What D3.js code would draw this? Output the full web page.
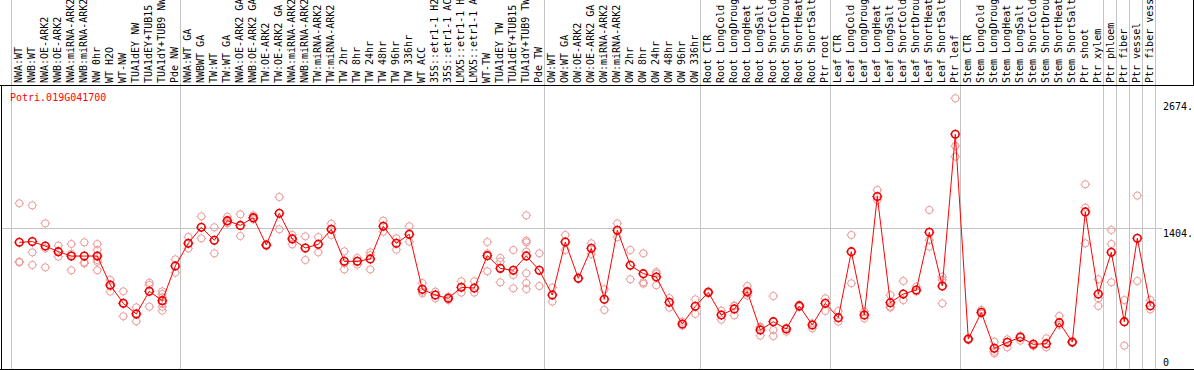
<!DOCTYPE html>
<html><head><meta charset="utf-8">
<script src="https://cdn.jsdelivr.net/npm/d3@7"></script>
<style>
html,body{margin:0;padding:0;background:#fff;}
svg{display:block;}
text{font-family:"DejaVu Sans Mono","Liberation Mono",monospace;font-size:10px;}
</style></head>
<body>
<svg id="chart" width="1194" height="370"></svg>
<script>
const title = "Potri.019G041700";
const categories = [
"NWA:WT","NWB:WT","NWA:OE-ARK2","NWB:OE-ARK2","NWA:miRNA-ARK2","NWB:miRNA-ARK2","NW 0hr","WT H2O","WT-NW","TUA1dEY NW","TUA1dEY+TUB15 NW","TUA1dY+TUB9 NW","Pde NW",
"NWA:WT GA","NWBWT GA","TW:WT","TW:WT GA","NWA:OE-ARK2 GA","NWB:OE-ARK2 GA","TW:OE-ARK2","TW:OE-ARK2 GA","NWA:miRNA-ARK2 GA","NWB:miRNA-ARK2 GA","TW:miRNA-ARK2","TW:miRNA-ARK2 GA","TW 2hr","TW 8hr","TW 24hr","TW 48hr","TW 96hr","TW 336hr","WT ACC","35S::etr1-1 H2O","35S::etr1-1 ACC","LMX5::etr1-1 H2O","LMX5::etr1-1 ACC","WT-TW","TUA1dEY TW","TUA1dEY+TUB15 TW","TUA1dY+TUB9 TW","Pde TW",
"OW:WT","OW:WT GA","OW:OE-ARK2","OW:OE-ARK2 GA","OW:miRNA-ARK2","OW:miRNA-ARK2 GA","OW 2hr","OW 8hr","OW 24hr","OW 48hr","OW 96hr","OW 336hr",
"Root CTR","Root LongCold","Root LongDrought","Root LongHeat","Root LongSalt","Root ShortCold","Root ShortDrought","Root ShortHeat","Root ShortSalt","Ptr root",
"Leaf CTR","Leaf LongCold","Leaf LongDrought","Leaf LongHeat","Leaf LongSalt","Leaf ShortCold","Leaf ShortDrought","Leaf ShortHeat","Leaf ShortSalt","Ptr leaf",
"Stem CTR","Stem LongCold","Stem LongDrought","Stem LongHeat","Stem LongSalt","Stem ShortCold","Stem ShortDrought","Stem ShortHeat","Stem ShortSalt","Ptr shoot","Ptr xylem",
"Ptr phloem","Ptr fiber","Ptr vessel","Ptr fiber vessel"
];
// index where each group starts (separators), last = end
const groupStarts = [0, 13, 41, 53, 63, 73, 84, 85, 86, 87, 88];
const means = [
1264,1271,1227,1171,1127,1127,1127,838,655,549,775,682,1028,
1254,1414,1284,1480,1433,1510,1237,1553,1297,1207,1244,1394,1074,1074,1098,1424,1254,1344,795,738,705,815,808,1131,1004,985,1128,985,
738,1267,905,1204,695,1384,1034,951,918,665,449,625,
765,539,599,772,389,472,399,629,439,655,
512,1171,539,1720,662,748,788,1364,828,2342,
299,565,206,266,316,246,253,462,269,1567,748,
1164,472,1304,632
];
const replicates = [
[1653,1071,1064],[1633,1164,1038],[1453,1204,1014],[1231,1121,1171],[1247,1149,985],[1264,1064,1054],[1247,1187,1131,1088,1068,985],[888,822,772],[775,655,526],[615,555,476],[861,838,622],[775,748,715,655,622,582],[1094,961],
[1317,1204,1254],[1523,1304],[1414,1154],[1520,1453,1468],[1543,1327],[1533,1503,1493],[1237,1230,1244],[1716,1394],[1337,1244,1310],[1324,1088],[1317,1164],[1450,1337],[1174,994,1054],[1108,1041],[1164,994,1135],[1480,1370],[1304,1191],[1424,1271],[858,755,772],[772,705],[721,688],[875,762],[875,762],[1267,1154,975],[1108,1071,865],[1187,938,805],[1533,1281,1264,1171,955,858,798],[1154,828],
[812,672],[1337,1187],[905,900],[1254,1147],[795,589],[1453,1314],[1187,895],[1154,865,851],[968,951,835],[708,612],[472,432],[695,549],
[775,755],[582,492],[629,633,535],[828,755,732],[422,411,333],[728,389,329],[412,372],[642,618],[456,406],[705,579],
[579,472],[1337,855],[572,505],[1786,1686],[738,622,612],[878,688],[822,772],[1587,1287,1221],[921,888,655],[2701,2225,2119],
[299,306,290],[589,552],[273,173,156],[296,216],[333,283],[256,229],[306,216],[529,439],[275,262],[1843,1610,1254],[895,705,629],
[1387,1247,865],[688,233],[1730,878],[688,595]
];
const yTicks = [0, 1404, 2674];
const yTickLabels = ["0", "1404.", "2674."];

const svg = d3.select("#chart");
const W = 1194, H = 370;
const n = categories.length;
const x = d3.scaleBand().domain(d3.range(n)).range([11.5, 11.5 + 13 * n]);
const px = i => x(i) + 7.8;
const y = d3.scaleLinear().domain([0, 2674]).range([369, 101]);

svg.append("rect").attr("width", W).attr("height", H).attr("fill", "#fff");

// gray separators
const sepX = i => (i < n ? x(i) : x(n - 1) + x.bandwidth());
svg.append("g").selectAll("line").data(groupStarts).join("line")
  .attr("x1", d => Math.round(sepX(d) - 0.5) + 0.5).attr("x2", d => Math.round(sepX(d) - 0.5) + 0.5)
  .attr("y1", 0).attr("y2", 369)
  .attr("stroke", "#c4c4c4").attr("stroke-width", 1);

// horizontal grid at 1404
svg.append("line").attr("x1", 1).attr("x2", 1162)
  .attr("y1", Math.round(y(1404)) + 0.5).attr("y2", Math.round(y(1404)) + 0.5)
  .attr("stroke", "#c4c4c4");

// frame lines
svg.append("line").attr("x1", 0).attr("x2", 1194).attr("y1", 85.5).attr("y2", 85.5).attr("stroke", "#000");
svg.append("line").attr("x1", 1193.5).attr("x2", 1193.5).attr("y1", 0).attr("y2", 85.5).attr("stroke", "#000");
svg.append("line").attr("x1", 1.5).attr("x2", 1.5).attr("y1", 85.5).attr("y2", 370).attr("stroke", "#000");
svg.append("line").attr("x1", 0).attr("x2", 1194).attr("y1", 369.5).attr("y2", 369.5).attr("stroke", "#000");

// header labels
svg.append("g").selectAll("text").data(categories).join("text")
  .attr("transform", (d, i) => `translate(${px(i) + 2.3},83) rotate(-90)`)
  .attr("text-anchor", "start").attr("fill", "#000").text(d => d);

// title
svg.append("text").attr("x", 10).attr("y", 101).attr("fill", "#ff0000").text(title);

// right axis labels
svg.append("g").selectAll("text").data(yTicks).join("text")
  .attr("x", 1163)
  .attr("y", (d, i) => d === 0 ? y(d) - 3.5 : y(d) + 9)
  .attr("fill", "#000").text((d, i) => yTickLabels[i]);

function marker(g, cx, cy, r, color, sw) {
  g.append("circle").attr("cx", cx).attr("cy", cy).attr("r", r)
    .attr("fill", "none").attr("stroke", color).attr("stroke-width", sw);
  const t = r + 1.2;
  g.append("path").attr("d",
    `M${cx},${cy - r}V${cy - t}M${cx},${cy + r}V${cy + t}M${cx - r},${cy}H${cx - t}M${cx + r},${cy}H${cx + t}`)
    .attr("stroke", color).attr("stroke-width", 1).attr("fill", "none");
}

// replicates
const repG = svg.append("g");
replicates.forEach((arr, i) => {
  arr.forEach(v => marker(repG, px(i), y(v), 3.6, "#ec9a9a", 1));
});

// mean line
const line = d3.line().x((d, i) => px(i)).y(d => y(d));
svg.append("path").datum(means).attr("d", line)
  .attr("fill", "none").attr("stroke", "#ff0000").attr("stroke-width", 1);

// means
const meanG = svg.append("g");
means.forEach((v, i) => marker(meanG, px(i), y(v), 3.8, "#ee0000", 1.6));
</script>
</body></html>
